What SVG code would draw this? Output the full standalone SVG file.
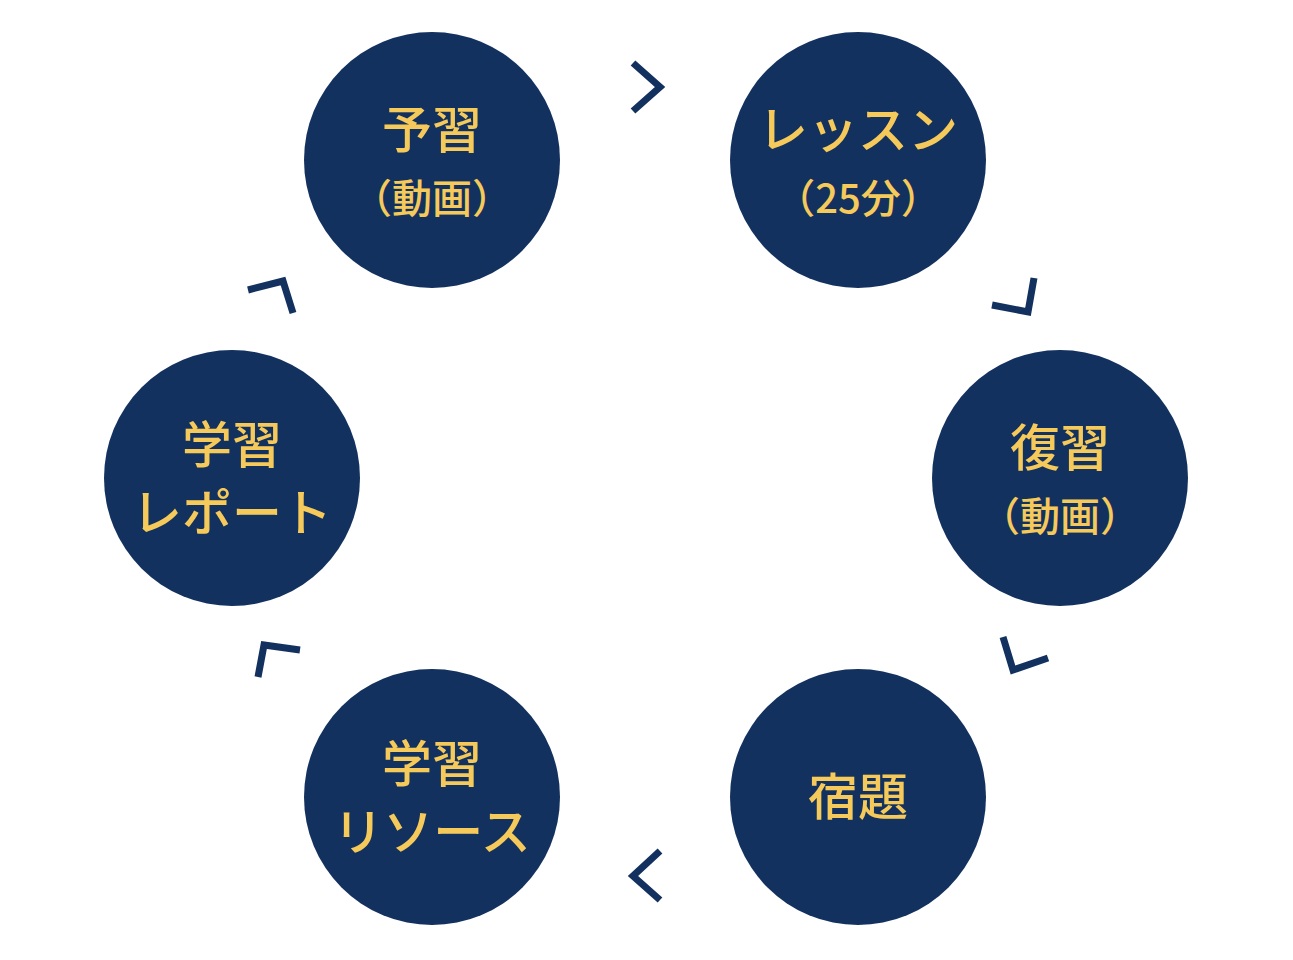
<svg xmlns="http://www.w3.org/2000/svg" width="1293" height="960" viewBox="0 0 1293 960">
<style>
.c{fill:#13315f}
.t{fill:#f5c95a;font-family:"Noto Sans CJK JP","Noto Sans",sans-serif;font-weight:500;text-anchor:middle}
.b{font-size:50px}
.s{font-size:40px}
.a{fill:none;stroke:#13315f;stroke-width:7}
</style>
<rect width="1293" height="960" fill="#fff"/>
<g id="n1"><circle class="c" cx="432" cy="160" r="128"/><text class="t b" x="432" y="148">予習</text><text class="t s" x="432" y="213">（動画）</text></g>
<g id="n2"><circle class="c" cx="858" cy="160" r="128"/><text class="t b" x="858" y="148">レッスン</text><text class="t s" x="858" y="213">（25分）</text></g>
<g id="n3"><circle class="c" cx="1060" cy="478" r="128"/><text class="t b" x="1060" y="466">復習</text><text class="t s" x="1060" y="531">（動画）</text></g>
<g id="n4"><circle class="c" cx="858" cy="797" r="128"/><text class="t b" x="858" y="815">宿題</text></g>
<g id="n5"><circle class="c" cx="432" cy="797" r="128"/><text class="t b" x="432" y="782">学習</text><text class="t b" x="432" y="850">リソース</text></g>
<g id="n6"><circle class="c" cx="232" cy="478" r="128"/><text class="t b" x="232" y="463">学習</text><text class="t b" x="232" y="531">レポート</text></g>
<g id="connectors">
<polyline class="a" points="633,63 660,87 633,111"/>
<polyline class="a" points="992,305 1028,312 1034,278"/>
<polyline class="a" points="1003,637 1013,670 1048,658"/>
<polyline class="a" points="660,851 633,876 660,900"/>
<polyline class="a" points="258,677 264,645 300,650"/>
<polyline class="a" points="248,290 283,281 293,313"/>
</g>
</svg>
